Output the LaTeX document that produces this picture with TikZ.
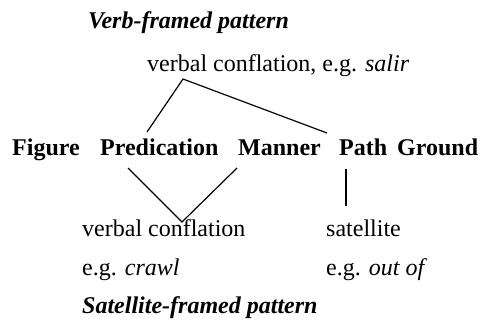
\documentclass[tikz,border=0pt]{standalone}
\usepackage{fontspec}
\setmainfont{Liberation Serif}
\begin{document}
\begin{tikzpicture}[x=1pt,y=-1pt,
  txt/.style={anchor=base west,inner sep=0pt,font=\fontsize{24}{28}\selectfont},
  bld/.style={txt,font=\fontsize{24}{28}\selectfont\bfseries},
  ttl/.style={txt,font=\fontsize{24}{28}\selectfont\bfseries\itshape},
  conn/.style={line width=1.2pt}]
\useasboundingbox (0,0) rectangle (483,325);
\node[ttl] (vfp) at (88,28) {Verb-framed pattern};
\node[txt] (vc) at (147,71) {verbal conflation, e.g. \textit{salir}};
\node[bld] (fig) at (12,155) {Figure};
\node[bld] (pred) at (100,155) {Predication};
\node[bld] (man) at (238,155) {Manner};
\node[bld] (path) at (339,155) {Path};
\node[bld] (gro) at (397,155) {Ground};
\node[txt] (vc2) at (82,236) {verbal conflation};
\node[txt] (sat) at (326,236) {satellite};
\node[txt] (eg1) at (82,275) {e.g. \textit{crawl}};
\node[txt] (eg2) at (326,275) {e.g. \textit{out of}};
\node[ttl] (sfp) at (82,313) {Satellite-framed pattern};
\coordinate (apex) at (183,79);
\coordinate (ul) at (147,132);
\coordinate (ur) at (327,133);
\coordinate (ll) at (128,168);
\coordinate (lb) at (182,222);
\coordinate (lr) at (237,168);
\coordinate (vt) at (346,169);
\coordinate (vb) at (346,206);
\draw[conn] (ul) -- (apex) -- (ur);
\draw[conn] (ll) -- (lb) -- (lr);
\draw[conn] (vt) -- (vb);
\end{tikzpicture}
\end{document}
